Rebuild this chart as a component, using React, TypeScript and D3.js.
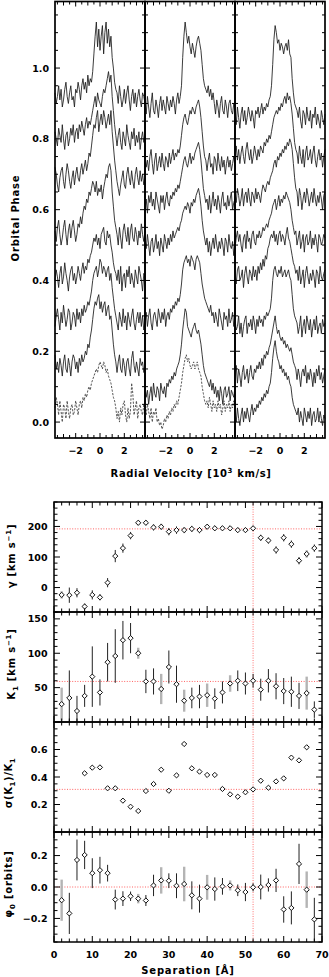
import React from "react";
import * as d3 from "d3";

const FONT = "'DejaVu Sans', 'Liberation Sans', sans-serif";
const W = 329;
const H = 977;

// ---------------- Top: trailed spectra ----------------
const velocityDomain: [number, number] = [-3.7, 3.7];
const phaseDomain: [number, number] = [-0.045, 1.188];
const velocityTickLabels = [-2, 0, 2];
const phaseTickLabels = [0.0, 0.2, 0.4, 0.6, 0.8, 1.0];

// phase offsets of each spectrum (top to bottom); flux sampled every 100 km/s, in units of 0.01 above offset
const col1Offsets = [0.92, 0.8, 0.69, 0.53, 0.41, 0.29, 0.16, 0.03];
const col1Mean = [false, false, false, false, false, false, false, true];
const col1Flux = [
  [1, -2, 0, 3, -1, 2, -3, -1, 2, 4, 0, -2, 1, 3, -1, 0, -3, 2, 1, 4, 2, -1, 3, 5, 2, 4, 1, 6, 3, 5,
   4, 7, 12, 17, 21, 14, 19, 13, 17, 20, 12, 18, 21, 15, 19, 14, 17, 11, 8, 4, 2,
   1, -2, 3, 0, -3, -1, 2, -2, 1, 3, -1, -4, 0, 2, -2, 1, -3, 0, 2, -1, -3, 1, 0, -2],
  [2, 0, -2, 3, 1, -1, 4, 0, -3, 1, 2, -2, 0, 3, 1, 4, -1, 2, 3, 0, 4, 2, 5, 3, 1, 4, 6, 3, 5, 4,
   6, 8, 10, 12, 9, 13, 11, 10, 9, 12, 14, 13, 15, 17, 19, 16, 18, 12, 8, 4, 1,
   -2, 1, 3, -1, -3, 2, 0, -2, 4, 1, -1, -3, 2, 0, 3, -2, 1, -1, 2, -3, 0, 2, -1, 1],
  [3, 1, -2, -4, 0, 2, 3, -1, -3, 1, 4, 2, -1, -3, 0, 2, -2, 1, 3, 0, -1, 2, 4, 1, 3, 5, 2, 4, 7, 6,
   9, 12, 15, 14, 17, 19, 13, 16, 18, 15, 19, 17, 14, 16, 18, 15, 19, 13, 9, 5, 2,
   -1, -3, -5, -2, 0, 2, -2, -3, 1, 3, 0, -2, 2, -1, -3, 1, 3, 0, -2, 2, -1, 1, -2, 0],
  [1, -2, 2, 4, 0, -3, -1, 2, 4, 0, -3, 1, 3, -1, 2, 4, 1, -2, 0, 3, 2, 5, 3, 6, 8, 7, 10, 9, 12, 11,
   13, 15, 14, 12, 15, 11, 13, 12, 14, 10, 13, 15, 17, 16, 19, 20, 18, 12, 8, 4, 2,
   0, -3, 2, -1, -4, 1, 3, 0, -2, 2, -3, 1, 3, -1, -2, 2, 0, -3, 1, -1, 3, 0, -2, 1],
  [-1, 2, 0, -3, 1, 3, -2, 0, 4, 1, -1, -4, 0, 2, 3, -1, 1, -2, 0, 3, 1, -1, 2, 4, 1, 3, 2, 5, 4, 6,
   7, 9, 11, 10, 12, 9, 11, 8, 12, 13, 14, 10, 9, 13, 11, 12, 9, 7, 4, 2, 1,
   -1, 2, -2, 3, -4, 0, 1, -3, 2, 0, 3, -2, 1, -1, -3, 2, 0, -2, 3, 1, -1, -4, 1, 0],
  [-2, 1, 3, 0, -3, 2, -1, 4, 1, -2, 0, 3, 2, -3, -1, 2, 1, -2, 3, 0, 2, -1, 3, 1, 4, 2, 3, 5, 4, 6,
   8, 11, 13, 14, 15, 12, 14, 17, 16, 13, 15, 14, 12, 14, 15, 11, 13, 9, 6, 3, 1,
   -1, -3, 2, 0, -2, 3, -1, 1, -3, 2, 0, -2, 1, 3, -1, -3, 0, 2, -1, 2, -2, 1, -3, -1],
  [3, -1, 1, -2, 2, 0, -3, 1, 3, -1, -2, 2, 0, -3, 1, 3, 2, -1, 1, -2, 2, 0, 3, 1, 2, 4, 3, 6, 5, 8,
   10, 13, 16, 18, 17, 19, 20, 16, 18, 15, 17, 18, 14, 16, 17, 13, 14, 10, 6, 3, 1,
   -2, 1, 3, -1, -2, 2, 0, -3, 1, 2, -1, -3, 2, 4, 0, -2, 1, -1, -3, 2, 0, 1, -2, -1],
  [1, 4, 2, -1, 3, 0, -3, 2, 1, -2, 3, 0, -2, 1, 2, -1, 0, 3, 1, -1, 2, 3, 1, 4, 3, 5, 4, 6, 7, 6,
   8, 9, 10, 11, 12, 11, 13, 14, 13, 12, 14, 13, 11, 12, 10, 9, 8, 6, 4, 3, 1,
   -2, 0, -3, 1, -1, 2, 3, -1, -3, 1, -2, 0, 8, 5, -1, 1, 3, -2, 1, 2, 0, -1, 2, 0],
];

const col2Offsets = [0.89, 0.73, 0.62, 0.5, 0.29, 0.08, 0.01];
const col2Mean = [false, false, false, false, false, false, true];
const col2Flux = [
  [2, -2, 3, 0, -3, 1, 4, -1, -2, 2, 0, -3, 1, 3, -1, 2, 0, -2, 3, 1, -1, 2, 0, 3, 1, -2, 2, 4, 1, 3,
   6, 14, 20, 24, 21, 18, 20, 17, 15, 18, 16, 14, 17, 19, 20, 18, 16, 12, 8, 6, 5,
   4, 6, 3, 5, 2, 4, 1, -2, 2, 0, -3, 1, 3, -1, -2, 2, 0, -3, 1, 2, -1, -2, 1, 0],
  [3, -1, 1, -2, 2, 4, 0, -3, 1, 3, -2, 0, 2, -1, 3, 0, -2, 2, 1, -1, 3, 0, 2, 4, 1, 3, 2, 4, 3, 5,
   8, 11, 13, 14, 12, 11, 13, 15, 14, 16, 15, 14, 16, 17, 18, 16, 13, 9, 5, 2, 1,
   -2, 1, 3, -1, 0, -3, 2, 1, -2, 3, 0, -2, 2, -1, 1, -3, 0, 2, -1, 1, -2, 0, 2, -1],
  [-2, 1, -3, 2, 0, 3, -1, 1, -2, 3, 1, -1, -3, 2, 0, 2, -2, 1, 3, 0, -1, 2, 1, 3, 2, 4, 3, 5, 4, 6,
   8, 10, 12, 13, 11, 10, 12, 14, 11, 13, 12, 14, 15, 16, 17, 15, 12, 8, 4, 2, 0,
   1, -2, 2, -3, 0, 3, -1, 1, -2, 2, 0, -3, 1, 3, -1, 0, -2, 2, -1, 1, 3, -2, 0, 1],
  [2, -1, 3, 0, -3, 1, 2, -2, 0, 3, -1, 1, -3, 2, 0, -2, 3, 1, -1, 2, 0, 3, 1, 4, 2, 3, 4, 5, 4, 6,
   7, 9, 10, 11, 10, 12, 11, 9, 12, 11, 13, 12, 14, 15, 16, 14, 11, 7, 4, 2, 0,
   2, -2, 1, -3, 0, 2, -1, 3, 0, -2, 1, -1, 2, 0, -3, 2, 1, -2, 3, 0, -1, 1, -3, 1],
  [0, 2, -2, 1, 3, -1, -3, 1, 2, 0, -2, 3, 1, -1, 2, 0, 3, -2, 1, 2, 0, 3, 2, 4, 3, 5, 4, 6, 5, 7,
   10, 14, 16, 17, 18, 16, 17, 15, 18, 17, 16, 14, 17, 18, 17, 16, 13, 10, 8, 6, 5,
   4, 3, 2, 4, 1, 2, -1, 2, 0, -2, 3, 1, -1, -3, 2, 0, 1, -2, 3, -1, 0, 2, -2, 1],
  [2, -1, 1, -3, 0, 2, -2, 3, 0, -1, 2, 1, -2, 3, 1, 0, 2, -1, 3, 2, 4, 3, 5, 4, 6, 5, 7, 8, 9, 11,
   14, 18, 21, 24, 23, 19, 18, 17, 16, 18, 19, 20, 18, 17, 18, 16, 14, 11, 8, 6, 5,
   4, 3, 2, 4, 1, 3, 0, 2, -1, 1, -2, 2, 0, -3, 1, 2, -1, 0, 2, -2, 1, 0, -1, 2],
  [3, 1, 4, 2, 0, 3, -1, 2, 1, 3, -1, 0, -2, -1, -3, -2, 0, -1, 1, 0, 2, 1, 3, 2, 4, 3, 5, 4, 6, 8,
   10, 13, 15, 17, 18, 16, 17, 15, 14, 15, 16, 14, 15, 16, 14, 13, 12, 9, 7, 5, 4,
   5, 3, 6, 4, 2, 5, 3, 4, 2, 5, 3, 4, 1, 3, 5, 2, 4, 3, 5, 2, 4, 3, 5, 4],
];

const col3Offsets = [0.86, 0.75, 0.63, 0.51, 0.41, 0.27, 0.13, 0.01];
const col3Mean = [false, false, false, false, false, false, false, false];
const col3Flux = [
  [2, -2, 3, 0, -3, 1, 3, -1, 2, -2, 0, 3, 1, -1, 2, 0, -3, 2, 1, 3, 0, 2, 4, 1, 3, 2, 4, 3, 5, 6,
   9, 15, 22, 26, 24, 21, 22, 19, 21, 20, 18, 20, 21, 19, 22, 18, 17, 11, 7, 4, 3,
   2, 0, 3, -1, -3, 2, 1, -2, 3, 0, -1, 2, -3, 1, 0, 3, -2, 1, -1, -3, 2, 0, -2, 1],
  [0, 3, -1, 2, -2, 1, 3, 0, -2, 2, 4, 1, -1, 2, -2, 0, 3, 1, -1, 2, 0, 3, 2, 1, 4, 3, 5, 4, 6, 5,
   7, 9, 11, 12, 13, 12, 14, 13, 15, 14, 16, 17, 15, 18, 16, 17, 15, 12, 8, 4, 2,
   1, -2, 3, 0, -2, 2, -3, 1, 3, -1, 0, 2, -2, 1, 3, -1, -3, 0, 2, -1, 1, -3, 0, 2],
  [2, -1, 3, 1, -2, 0, 3, -2, 1, 2, -1, 3, 0, -2, 2, 1, -1, 3, 0, 2, 1, -1, 2, 4, 3, 2, 4, 5, 4, 6,
   7, 8, 10, 11, 9, 12, 11, 13, 12, 14, 13, 15, 14, 16, 15, 17, 16, 14, 10, 6, 3,
   2, -2, 3, 1, -3, 0, 2, -1, 3, 1, -2, 0, 2, -1, 3, 0, -2, 1, -1, 2, 0, -3, 1, 2],
  [-2, 1, 3, 0, 2, -1, -3, 1, 2, -2, 3, 0, 1, -2, 2, 3, 0, -1, 2, 1, 3, 1, 2, 4, 3, 4, 5, 4, 6, 7,
   8, 10, 11, 12, 9, 11, 13, 10, 12, 11, 13, 12, 14, 13, 12, 11, 9, 6, 4, 2, 3,
   -1, 1, 3, -2, 0, 2, -3, 1, 2, -1, 0, 3, -2, 1, -1, 2, 0, -3, 2, 1, -1, 0, 2, 1],
  [1, -2, 2, 3, -1, 0, 2, -3, 1, 3, 0, -2, 2, 1, -1, 3, 0, 2, -1, 3, 1, 4, 2, 5, 3, 6, 5, 8, 9, 11,
   12, 11, 13, 10, 12, 9, 12, 13, 10, 12, 11, 9, 12, 14, 11, 10, 8, 6, 4, 3, 1,
   2, -1, 3, -2, 0, 2, -3, 1, 3, 0, -2, 1, -1, 2, 0, -3, 2, 1, -2, 3, 0, -1, 1, 2],
  [2, -1, 0, 3, -2, 1, -3, 0, 2, 3, -2, 1, 0, 2, -1, 3, 1, -2, 2, 0, 3, 1, 2, 0, 3, 2, 4, 3, 4, 5,
   8, 13, 16, 17, 15, 14, 16, 15, 17, 14, 15, 16, 14, 15, 16, 14, 13, 9, 5, 3, 2,
   1, -2, 0, 3, -3, 0, 2, -2, 3, 1, -1, 2, -3, 0, 2, -1, 3, -2, 0, 1, -2, 2, 0, 1],
  [0, 3, -2, 2, 0, -3, 1, 3, -1, 0, 2, -2, 1, 3, 0, -1, 2, 1, 3, 2, 4, 2, 5, 3, 6, 5, 7, 6, 8, 9,
   11, 13, 15, 17, 14, 12, 13, 11, 10, 11, 9, 10, 8, 9, 8, 7, 8, 6, 4, 3, 2,
   -1, 2, 0, -3, 1, 2, 0, 3, -2, 1, -1, 2, 0, -3, 1, -2, 2, 0, 3, -1, 1, -2, 0, 2],
  [2, -1, 3, 0, -2, 1, 3, -1, 2, 0, 3, 1, -1, 2, 4, 1, 3, 2, 4, 3, 5, 4, 6, 5, 7, 6, 8, 7, 9, 10,
   13, 17, 20, 22, 19, 17, 16, 14, 15, 13, 14, 12, 13, 11, 12, 10, 9, 6, 4, 3, 2,
   1, 3, -1, 2, 0, -2, 3, 1, -1, 2, 0, 3, -2, 1, 2, -1, 0, 3, -1, 2, 0, -2, 1, 0],
];

// ---------------- Bottom: diagnostic diagram ----------------
const separation = [2, 4, 6, 8, 10, 12, 14, 16, 18, 20, 22, 24, 26, 28, 30, 32, 34, 36, 38, 40, 42, 44, 46, 48, 50, 52, 54, 56, 58, 60, 62, 64, 66, 68];
const gammaValues = [-24, -25, -17, -62, -24, -32, 16, 103, 129, 170, 212, 212, 197, 199, 183, 188, 188, 192, 188, 199, 194, 194, 194, 188, 188, 194, 163, 154, 123, 163, 142, 88, 110, 129];
const gammaErrors = [12, 25, 15, 10, 15, 10, 15, 20, 15, 12, 8, 8, 10, 10, 12, 12, 10, 10, 10, 8, 8, 8, 8, 8, 8, 8, 10, 10, 12, 12, 12, 12, 12, 12];
const k1Values = [26, 35, 16, 38, 66, 43, 87, 96, 119, 122, 100, 59, 59, 48, 80, 55, 31, 35, 37, 39, 34, 43, 56, 60, 56, 60, 47, 60, 52, 45, 44, 38, 42, 18];
const k1Errors = [24, 40, 22, 16, 44, 19, 28, 39, 28, 22, 8, 17, 19, 22, 24, 27, 16, 15, 17, 17, 15, 16, 12, 15, 16, 10, 16, 17, 19, 19, 22, 19, 24, 12];
const sigmaSeparation = [8, 10, 12, 14, 16, 18, 20, 22, 24, 26, 28, 30, 32, 34, 36, 38, 40, 42, 44, 46, 48, 50, 52, 54, 56, 58, 60, 62, 64, 66];
const sigmaValues = [0.427, 0.468, 0.47, 0.318, 0.318, 0.228, 0.184, 0.153, 0.298, 0.349, 0.453, 0.3, 0.412, 0.64, 0.463, 0.439, 0.415, 0.415, 0.313, 0.274, 0.257, 0.289, 0.31, 0.373, 0.322, 0.368, 0.39, 0.541, 0.521, 0.616];
const phiValues = [-0.084, -0.168, 0.172, 0.204, 0.088, 0.107, 0.088, -0.08, -0.074, -0.059, -0.074, -0.086, 0.01, 0.042, 0.04, 0.008, 0.019, -0.053, -0.074, -0.002, -0.013, 0.004, 0.01, -0.021, -0.032, -0.002, 0.0, 0.013, 0.042, -0.143, -0.133, 0.147, -0.017, -0.206];
const phiErrors = [0.131, 0.131, 0.13, 0.09, 0.095, 0.085, 0.053, 0.063, 0.047, 0.03, 0.03, 0.035, 0.068, 0.084, 0.047, 0.079, 0.11, 0.089, 0.089, 0.079, 0.074, 0.053, 0.032, 0.037, 0.058, 0.026, 0.079, 0.042, 0.074, 0.084, 0.105, 0.128, 0.116, 0.137];
const greySeparations = [2, 22, 28, 34, 40, 46, 66];
const separationTickLabels = [0, 10, 20, 30, 40, 50, 60, 70];
const bestSeparation = 52;
const gammaRef = 192;
const k1Ref = 59;
const sigmaRef = 0.31;
const phiRef = 0;

// ---------------- helpers ----------------
function tickValues(d0: number, d1: number, step: number) {
  const out: number[] = [];
  const k0 = Math.ceil(d0 / step - 1e-6);
  const k1 = Math.floor(d1 / step + 1e-6);
  for (let k = k0; k <= k1; k++) out.push(+(k * step).toFixed(6));
  return out;
}
const isMajor = (v: number, major: number) => Math.abs(v / major - Math.round(v / major)) < 1e-6;

const diamond = (x: number, y: number, r = 2.6) => `M${x},${y - r}L${x + r},${y}L${x},${y + r}L${x - r},${y}Z`;

function SpectraColumn({ x0, x1, offsets, flux, mean, yS, showLeftLabels }: any) {
  const xS = d3.scaleLinear().domain(velocityDomain).range([x0, x1]);
  const els: any[] = [];
  offsets.forEach((off: number, si: number) => {
    const f = flux[si];
    const n = f.length;
    const line = d3
      .line<number>()
      .x((_, i) => xS(velocityDomain[0] + ((velocityDomain[1] - velocityDomain[0]) * i) / (n - 1)))
      .y((v) => yS(off + v / 100));
    els.push(
      <path
        key={"s" + si}
        d={line(f) || ""}
        fill="none"
        stroke={mean[si] ? "#555" : "#1a1a1a"}
        strokeWidth={mean[si] ? 1 : 0.85}
        strokeDasharray={mean[si] ? "2.2,1.4" : undefined}
        strokeLinejoin="round"
      />
    );
  });
  const yTop = yS.range()[1];
  const yBot = yS.range()[0];
  tickValues(velocityDomain[0], velocityDomain[1], 0.5).forEach((v, i) => {
    const len = isMajor(v, 1) ? (isMajor(v, 2) ? 5 : 4) : 3;
    const x = xS(v);
    els.push(<line key={"xt" + i} x1={x} x2={x} y1={yBot} y2={yBot - len} stroke="#000" strokeWidth={1} />);
    els.push(<line key={"xtt" + i} x1={x} x2={x} y1={yTop} y2={yTop + len} stroke="#000" strokeWidth={1} />);
  });
  tickValues(phaseDomain[0], phaseDomain[1], 0.05).forEach((v, i) => {
    const len = isMajor(v, 0.2) ? 5 : 3;
    const y = yS(v);
    els.push(<line key={"yl" + i} x1={x0} x2={x0 + len} y1={y} y2={y} stroke="#000" strokeWidth={1} />);
    els.push(<line key={"yr" + i} x1={x1} x2={x1 - len} y1={y} y2={y} stroke="#000" strokeWidth={1} />);
  });
  velocityTickLabels.forEach((v) => {
    els.push(
      <text key={"xl" + v} x={xS(v)} y={454} textAnchor="middle" fontSize={9.5} fontWeight="bold" fontFamily={FONT}>
        {v < 0 ? "−" + Math.abs(v) : String(v)}
      </text>
    );
  });
  if (showLeftLabels) {
    phaseTickLabels.forEach((v) => {
      els.push(
        <text key={"yl" + v} x={49} y={yS(v) + 3.5} textAnchor="end" fontSize={9.5} fontWeight="bold" fontFamily={FONT}>
          {v.toFixed(1)}
        </text>
      );
    });
  }
  return (
    <g>
      {els}
      <rect x={x0} y={yTop} width={x1 - x0} height={yBot - yTop} fill="none" stroke="#000" strokeWidth={1.7} />
    </g>
  );
}

function ScatterPanel({ top, height, domain, major, minor, labels, fmt, xS, children, id }: any) {
  const yS = d3.scaleLinear().domain(domain).range([top + height, top]);
  const x0 = xS.range()[0];
  const x1 = xS.range()[1];
  const els: any[] = [];
  tickValues(0, 70, 2).forEach((v, i) => {
    const len = isMajor(v, 10) ? 6 : 3.5;
    const x = xS(v);
    els.push(<line key={"xb" + i} x1={x} x2={x} y1={top + height} y2={top + height - len} stroke="#000" strokeWidth={1} />);
    els.push(<line key={"xt" + i} x1={x} x2={x} y1={top} y2={top + len} stroke="#000" strokeWidth={1} />);
  });
  tickValues(domain[0], domain[1], minor).forEach((v, i) => {
    const len = isMajor(v, major) ? 6 : 3.5;
    const y = yS(v);
    els.push(<line key={"yl" + i} x1={x0} x2={x0 + len} y1={y} y2={y} stroke="#000" strokeWidth={1} />);
    els.push(<line key={"yr" + i} x1={x1} x2={x1 - len} y1={y} y2={y} stroke="#000" strokeWidth={1} />);
  });
  labels.forEach((v: number) => {
    els.push(
      <text key={"lab" + v} x={47.5} y={yS(v) + 3.5} textAnchor="end" fontSize={9.5} fontWeight="bold" fontFamily={FONT}>
        {fmt(v)}
      </text>
    );
  });
  return (
    <g>
      <clipPath id={id}>
        <rect x={x0} y={top} width={x1 - x0} height={height} />
      </clipPath>
      <g clipPath={`url(#${id})`}>{children(yS)}</g>
      {els}
      <rect x={x0} y={top} width={x1 - x0} height={height} fill="none" stroke="#000" strokeWidth={1.5} />
    </g>
  );
}

export default function App() {
  const yPhase = d3.scaleLinear().domain(phaseDomain).range([438, 1.5]);
  const cols = [
    { x0: 55, x1: 145, offsets: col1Offsets, flux: col1Flux, mean: col1Mean },
    { x0: 145, x1: 235, offsets: col2Offsets, flux: col2Flux, mean: col2Mean },
    { x0: 235, x1: 325, offsets: col3Offsets, flux: col3Flux, mean: col3Mean },
  ];
  const xSep = d3.scaleLinear().domain([0, 70]).range([54, 322]);
  const red = "#ff3b3b";
  const isGrey = (s: number) => greySeparations.includes(s);

  const refH = (yS: any, v: number) => (
    <line x1={54} x2={322} y1={yS(v)} y2={yS(v)} stroke={red} strokeWidth={0.8} strokeDasharray="1,1.6" />
  );
  const errPoints = (yS: any, vals: number[], errs: number[]) => (
    <g>
      {separation.map((s, i) => (
        <line
          key={"e" + i}
          x1={xSep(s)}
          x2={xSep(s)}
          y1={yS(vals[i] - errs[i])}
          y2={yS(vals[i] + errs[i])}
          stroke={isGrey(s) ? "#b4b4b4" : "#222"}
          strokeWidth={isGrey(s) ? 2.4 : 1}
        />
      ))}
      {separation.map((s, i) => (
        <path key={"d" + i} d={diamond(xSep(s), yS(vals[i]))} fill="#fff" stroke="#111" strokeWidth={1} />
      ))}
    </g>
  );

  const panels = [
    {
      id: "cg",
      top: 502,
      domain: [-80, 280],
      major: 100,
      minor: 20,
      labels: [0, 100, 200],
      fmt: (v: number) => String(v),
      body: (yS: any) => (
        <g>
          {refH(yS, gammaRef)}
          {errPoints(yS, gammaValues, gammaErrors)}
        </g>
      ),
    },
    {
      id: "ck",
      top: 612,
      domain: [0, 160],
      major: 50,
      minor: 10,
      labels: [50, 100, 150],
      fmt: (v: number) => String(v),
      body: (yS: any) => (
        <g>
          {refH(yS, k1Ref)}
          {errPoints(yS, k1Values, k1Errors)}
        </g>
      ),
    },
    {
      id: "cs",
      top: 722,
      domain: [0, 0.8],
      major: 0.2,
      minor: 0.05,
      labels: [0.2, 0.4, 0.6],
      fmt: (v: number) => v.toFixed(1),
      body: (yS: any) => (
        <g>
          {refH(yS, sigmaRef)}
          {sigmaSeparation.map((s, i) => (
            <path key={"sd" + i} d={diamond(xSep(s), yS(sigmaValues[i]))} fill="#fff" stroke="#111" strokeWidth={1} />
          ))}
        </g>
      ),
    },
    {
      id: "cp",
      top: 832,
      domain: [-0.35, 0.35],
      major: 0.2,
      minor: 0.05,
      labels: [-0.2, 0, 0.2],
      fmt: (v: number) => (v < 0 ? "−" + Math.abs(v).toFixed(1) : v.toFixed(1)),
      body: (yS: any) => (
        <g>
          {refH(yS, phiRef)}
          {errPoints(yS, phiValues, phiErrors)}
        </g>
      ),
    },
  ];

  return (
    <svg
      width={W}
      height={H}
      viewBox={`0 0 ${W} ${H}`}
      style={{ position: "absolute", left: 0, top: 0, background: "#fff" }}
    >
      <rect x={0} y={0} width={W} height={H} fill="#fff" />
      {cols.map((c, i) => (
        <SpectraColumn key={i} {...c} yS={yPhase} showLeftLabels={i === 0} />
      ))}
      <text
        transform="translate(19,218) rotate(-90)"
        textAnchor="middle"
        fontSize={10}
        fontWeight="bold"
        fontFamily={FONT}
        letterSpacing={0.8}
      >
        Orbital Phase
      </text>
      <text x={191} y={477} textAnchor="middle" fontSize={10} fontWeight="bold" fontFamily={FONT} letterSpacing={0.6}>
        Radial Velocity [10<tspan dy={-4} fontSize={7}>3</tspan>
        <tspan dy={4}> km/s]</tspan>
      </text>

      {panels.map((p) => (
        <ScatterPanel
          key={p.id}
          id={p.id}
          top={p.top}
          height={110}
          domain={p.domain}
          major={p.major}
          minor={p.minor}
          labels={p.labels}
          fmt={p.fmt}
          xS={xSep}
        >
          {(yS: any) => (
            <g>
              <line x1={xSep(bestSeparation)} x2={xSep(bestSeparation)} y1={p.top} y2={p.top + 110} stroke={red} strokeWidth={1} strokeDasharray="1,1.4" opacity={0.7} />
              {p.body(yS)}
            </g>
          )}
        </ScatterPanel>
      ))}
      {separationTickLabels.map((v) => (
        <text key={"sx" + v} x={xSep(v)} y={958} textAnchor="middle" fontSize={9.5} fontWeight="bold" fontFamily={FONT}>
          {v}
        </text>
      ))}
      <text x={188} y={974} textAnchor="middle" fontSize={10} fontWeight="bold" fontFamily={FONT} letterSpacing={0.8}>
        Separation [Å]
      </text>

      <text transform="translate(15,556) rotate(-90)" textAnchor="middle" fontSize={10} fontWeight="bold" fontFamily={FONT} letterSpacing={0.8}>
        γ  [km s<tspan dy={-4} fontSize={7}>−1</tspan>
        <tspan dy={4}>]</tspan>
      </text>
      <text transform="translate(15,664) rotate(-90)" textAnchor="middle" fontSize={10} fontWeight="bold" fontFamily={FONT} letterSpacing={0.8}>
        K<tspan dy={3} fontSize={7}>1</tspan>
        <tspan dy={-3}>  [km s</tspan>
        <tspan dy={-4} fontSize={7}>−1</tspan>
        <tspan dy={4}>]</tspan>
      </text>
      <text transform="translate(12,783) rotate(-90)" textAnchor="middle" fontSize={10} fontWeight="bold" fontFamily={FONT} letterSpacing={0.6}>
        σ(K<tspan dy={3} fontSize={7}>1</tspan>
        <tspan dy={-3}>)/K</tspan>
        <tspan dy={3} fontSize={7}>1</tspan>
      </text>
      <text transform="translate(12,884) rotate(-90)" textAnchor="middle" fontSize={10} fontWeight="bold" fontFamily={FONT} letterSpacing={0.8}>
        φ<tspan dy={3} fontSize={7}>0</tspan>
        <tspan dy={-3}>  [orbits]</tspan>
      </text>
    </svg>
  );
}
